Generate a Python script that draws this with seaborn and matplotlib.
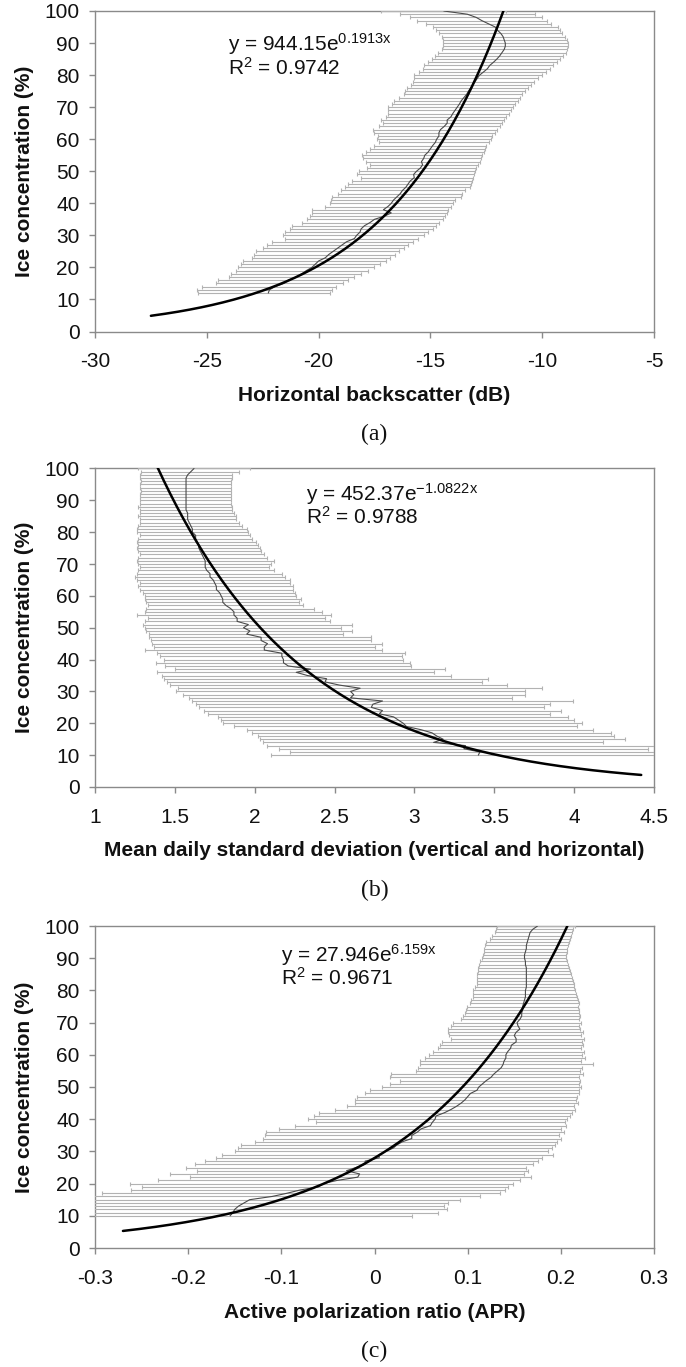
import numpy as np
import matplotlib
matplotlib.use("Agg")
import matplotlib.pyplot as plt
import seaborn as sns
from matplotlib.ticker import MultipleLocator, FuncFormatter

# ---- panel (a): horizontal backscatter, ice levels 12..100 %
ice_a = list(range(12, 101))
left_a = [-25.40, -25.45, -25.20, -24.60, -24.50, -24.00, -23.90, -23.70, -23.60, -23.45,
          -23.40, -23.00, -22.90, -22.80, -22.50, -22.30, -22.10, -21.50, -21.60, -21.50,
          -21.30, -21.20, -20.75, -20.50, -20.40, -20.30, -20.30, -19.70, -19.50, -19.45,
          -19.40, -19.15, -19.00, -18.80, -18.70, -18.50, -18.10, -18.30, -18.20, -17.85,
          -17.70, -17.90, -18.00, -18.05, -17.90, -17.70, -17.50, -17.30, -17.40, -17.35,
          -17.50, -17.55, -17.30, -17.10, -17.20, -17.00, -16.90, -16.90, -16.90, -16.70,
          -16.65, -16.40, -16.20, -16.15, -16.05, -15.85, -15.80, -15.75, -15.75, -15.50,
          -15.35, -15.30, -15.10, -14.95, -14.80, -14.65, -14.50, -14.45, -14.45, -14.45,
          -14.50, -14.60, -14.75, -14.90, -15.20, -15.60, -15.90, -16.35, -17.20]
right_a = [-19.50, -19.40, -19.20, -18.90, -18.70, -18.40, -18.10, -17.80, -17.50, -17.25,
           -17.00, -16.80, -16.60, -16.40, -16.20, -16.00, -15.80, -15.55, -15.30, -15.10,
           -14.90, -14.75, -14.60, -14.45, -14.35, -14.25, -14.20, -14.10, -14.00, -13.90,
           -13.65, -13.60, -13.45, -13.25, -13.20, -13.15, -13.10, -13.05, -13.00, -12.95,
           -12.85, -12.80, -12.75, -12.70, -12.60, -12.55, -12.50, -12.40, -12.30, -12.25,
           -12.10, -12.00, -11.90, -11.80, -11.70, -11.60, -11.50, -11.40, -11.30, -11.20,
           -11.10, -11.00, -10.90, -10.75, -10.62, -10.50, -10.35, -10.20, -10.00, -9.85,
           -9.65, -9.50, -9.35, -9.20, -9.05, -8.95, -8.90, -8.85, -8.85, -8.90,
           -9.00, -9.10, -9.20, -9.30, -9.60, -9.80, -10.00, -10.30, -11.60]
mean_a = [-22.25, -22.20, -21.95, -21.55, -21.35, -21.00, -20.75, -20.55, -20.30, -20.15,
          -20.00, -19.70, -19.55, -19.35, -19.15, -18.95, -18.75, -18.40, -18.30, -18.15,
          -18.10, -17.95, -17.70, -17.50, -17.05, -16.75, -17.10, -16.90, -16.75, -16.65,
          -16.50, -16.35, -16.25, -16.10, -16.00, -15.90, -15.72, -15.75, -15.62, -15.45,
          -15.35, -15.40, -15.30, -15.25, -15.10, -15.00, -14.90, -14.78, -14.72, -14.62,
          -14.62, -14.55, -14.38, -14.25, -14.25, -14.08, -14.00, -13.90, -13.80, -13.70,
          -13.62, -13.50, -13.38, -13.30, -13.20, -13.10, -13.00, -12.90, -12.80, -12.62,
          -12.45, -12.35, -12.18, -12.03, -11.90, -11.80, -11.70, -11.65, -11.65, -11.70,
          -11.75, -11.85, -12.00, -12.10, -12.40, -12.70, -12.95, -13.35, -14.40]

# ---- panel (b): mean daily standard deviation, ice levels 10..100 %
ice_b = list(range(10, 101))
left_b = [2.10, 2.22, 2.15, 2.08, 2.05, 2.03, 2.02, 1.98, 1.95, 1.87,
          1.80, 1.79, 1.77, 1.71, 1.68, 1.65, 1.63, 1.61, 1.59, 1.55,
          1.51, 1.52, 1.47, 1.45, 1.43, 1.42, 1.39, 1.50, 1.44, 1.38,
          1.43, 1.41, 1.39, 1.31, 1.37, 1.36, 1.35, 1.34, 1.34, 1.32,
          1.31, 1.30, 1.31, 1.33, 1.26, 1.31, 1.32, 1.33, 1.32, 1.31,
          1.31, 1.30, 1.28, 1.27, 1.28, 1.26, 1.25, 1.26, 1.27, 1.28,
          1.27, 1.26, 1.27, 1.28, 1.27, 1.26, 1.27, 1.26, 1.27, 1.28,
          1.26, 1.26, 1.27, 1.28, 1.28, 1.27, 1.28, 1.28, 1.27, 1.28,
          1.28, 1.28, 1.28, 1.29, 1.28, 1.28, 1.29, 1.28, 1.28, 1.29,
          1.27]
right_b = [4.70, 4.60, 4.46, 4.55, 4.18, 4.32, 4.25, 4.23, 4.12, 4.02,
           4.05, 4.00, 3.96, 3.85, 3.92, 3.81, 3.85, 3.99, 3.61, 3.69,
           3.69, 3.80, 3.58, 3.42, 3.46, 3.23, 3.12, 3.19, 2.98, 2.97,
           2.93, 2.92, 2.94, 2.80, 2.75, 2.80, 2.73, 2.73, 2.55, 2.61,
           2.54, 2.61, 2.47, 2.44, 2.48, 2.42, 2.37, 2.30, 2.28, 2.29,
           2.26, 2.25, 2.24, 2.24, 2.22, 2.22, 2.19, 2.17, 2.12, 2.09,
           2.10, 2.12, 2.08, 2.06, 2.04, 2.03, 2.02, 2.01, 1.98, 1.97,
           1.96, 1.95, 1.92, 1.90, 1.88, 1.88, 1.87, 1.86, 1.86, 1.85,
           1.85, 1.85, 1.85, 1.85, 1.85, 1.85, 1.85, 1.86, 1.86, 1.90,
           1.97]
mean_b = [3.40, 3.41, 3.31, 3.32, 3.12, 3.18, 3.14, 3.11, 3.04, 2.95,
          2.93, 2.90, 2.87, 2.78, 2.80, 2.73, 2.74, 2.80, 2.60, 2.62,
          2.60, 2.66, 2.53, 2.44, 2.45, 2.33, 2.26, 2.35, 2.21, 2.18,
          2.18, 2.17, 2.17, 2.06, 2.06, 2.08, 2.04, 2.04, 1.95, 1.97,
          1.93, 1.96, 1.89, 1.89, 1.87, 1.87, 1.85, 1.82, 1.80, 1.80,
          1.79, 1.78, 1.76, 1.76, 1.75, 1.74, 1.72, 1.72, 1.70, 1.69,
          1.69, 1.69, 1.68, 1.67, 1.66, 1.65, 1.65, 1.64, 1.63, 1.63,
          1.61, 1.61, 1.60, 1.59, 1.58, 1.58, 1.58, 1.57, 1.57, 1.57,
          1.57, 1.57, 1.57, 1.57, 1.57, 1.57, 1.57, 1.57, 1.58, 1.60,
          1.62]

# ---- panel (c): active polarization ratio, ice levels 10..100 %
ice_c = list(range(10, 101))
left_c = [-0.350, -0.360, -0.380, -0.370, -0.400, -0.360, -0.340, -0.293, -0.261, -0.250,
          -0.262, -0.232, -0.198, -0.220, -0.191, -0.202, -0.193, -0.182, -0.170, -0.164,
          -0.150, -0.146, -0.143, -0.128, -0.120, -0.118, -0.116, -0.103, -0.085, -0.063,
          -0.071, -0.065, -0.060, -0.042, -0.030, -0.021, -0.021, -0.019, -0.010, -0.005,
          0.008, 0.017, 0.027, 0.017, 0.018, 0.045, 0.047, 0.049, 0.049, 0.054,
          0.058, 0.063, 0.068, 0.070, 0.072, 0.082, 0.080, 0.079, 0.079, 0.082,
          0.084, 0.093, 0.095, 0.097, 0.098, 0.099, 0.102, 0.104, 0.106, 0.106,
          0.106, 0.108, 0.110, 0.110, 0.110, 0.110, 0.111, 0.111, 0.112, 0.113,
          0.115, 0.116, 0.117, 0.118, 0.119, 0.120, 0.124, 0.126, 0.129, 0.130,
          0.131]
right_c = [0.040, 0.068, 0.078, 0.075, 0.079, 0.092, 0.113, 0.135, 0.140, 0.143,
           0.149, 0.156, 0.168, 0.160, 0.165, 0.163, 0.170, 0.176, 0.180, 0.192,
           0.186, 0.190, 0.194, 0.196, 0.200, 0.198, 0.203, 0.200, 0.206, 0.204,
           0.207, 0.210, 0.212, 0.215, 0.214, 0.218, 0.216, 0.217, 0.220, 0.219,
           0.222, 0.220, 0.221, 0.219, 0.224, 0.221, 0.223, 0.234, 0.222, 0.226,
           0.223, 0.225, 0.222, 0.224, 0.223, 0.225, 0.222, 0.224, 0.221, 0.219,
           0.222, 0.220, 0.221, 0.219, 0.220, 0.218, 0.219, 0.218, 0.217, 0.216,
           0.215, 0.214, 0.214, 0.213, 0.212, 0.211, 0.210, 0.209, 0.208, 0.207,
           0.206, 0.206, 0.207, 0.207, 0.208, 0.209, 0.210, 0.211, 0.212, 0.213,
           0.215]
mean_c = [-0.155, -0.152, -0.150, -0.146, -0.140, -0.134, -0.110, -0.094, -0.080, -0.060,
          -0.055, -0.040, -0.018, -0.016, -0.030, -0.020, -0.010, -0.010, 0.005, 0.005,
          0.012, 0.020, 0.024, 0.030, 0.040, 0.040, 0.046, 0.050, 0.060, 0.062,
          0.065, 0.066, 0.075, 0.082, 0.088, 0.093, 0.097, 0.100, 0.103, 0.110,
          0.112, 0.116, 0.120, 0.125, 0.128, 0.132, 0.136, 0.138, 0.139, 0.141,
          0.141, 0.143, 0.146, 0.147, 0.152, 0.152, 0.150, 0.152, 0.156, 0.154,
          0.153, 0.156, 0.158, 0.158, 0.159, 0.159, 0.160, 0.161, 0.162, 0.162,
          0.162, 0.163, 0.163, 0.163, 0.163, 0.163, 0.163, 0.163, 0.162, 0.162,
          0.161, 0.161, 0.162, 0.163, 0.163, 0.164, 0.165, 0.166, 0.167, 0.170,
          0.175]

# exponential trendlines y = A * exp(B * x), drawn over the x range shown
fit_a = (944.15, 0.1913, -27.5, -11.73)
fit_b = (452.37, -1.0822, 1.39, 4.42)
fit_c = (27.946, 6.159, -0.27, 0.207)

eq_a = (r"y = 944.15e$^{\mathrm{0.1913x}}$", r"R$^{\mathrm{2}}$ = 0.9742")
eq_b = (r"y = 452.37e$^{\mathrm{-1.0822x}}$", r"R$^{\mathrm{2}}$ = 0.9788")
eq_c = (r"y = 27.946e$^{\mathrm{6.159x}}$", r"R$^{\mathrm{2}}$ = 0.9671")

xlabels = ["Horizontal backscatter (dB)",
           "Mean daily standard deviation (vertical and horizontal)",
           "Active polarization ratio (APR)"]
letters = ["(a)", "(b)", "(c)"]

sns.set_style("white")
plt.rcParams['font.family'] = ['Liberation Sans', 'DejaVu Sans']
plt.rcParams['axes.unicode_minus'] = False
plt.rcParams['mathtext.fontset'] = 'custom'
plt.rcParams['mathtext.rm'] = 'Liberation Sans'
plt.rcParams['mathtext.default'] = 'regular'

fig = plt.figure(figsize=(6.86, 13.67), dpi=100)

W, H = 686, 1367
boxes = [(95, 11, 654, 331.5), (95, 468.5, 654, 787), (95, 926, 654, 1248)]

panels = [
    (ice_a, left_a, right_a, mean_a, fit_a, eq_a, (-30, -5, 5), (-24.05, 87.5, 80.2)),
    (ice_b, left_b, right_b, mean_b, fit_b, eq_b, (1, 4.5, 0.5), (2.32, 89.8, 82.5)),
    (ice_c, left_c, right_c, mean_c, fit_c, eq_c, (-0.3, 0.3, 0.1), (-0.10, 89.0, 81.7)),
]

grid_col = "#8a8a8a"
fmt = FuncFormatter(lambda v, p: "%g" % round(v, 6))

for i, (ice, lo, hi, mu, fit, eq, xr, eqpos) in enumerate(panels):
    x0, y0, x1, y1 = boxes[i]
    ax = fig.add_axes([x0 / W, 1 - y1 / H, (x1 - x0) / W, (y1 - y0) / H])

    ice = np.array(ice, dtype=float)
    lo, hi, mu = np.array(lo), np.array(hi), np.array(mu)
    assert len(ice) == len(lo) == len(hi) == len(mu)

    # lo / hi are the read bar ends; keep the bars spanning exactly those
    ax.errorbar(mu, ice, xerr=[np.clip(mu - lo, 0, None), np.clip(hi - mu, 0, None)],
                fmt='none', ecolor="#b2b2b2",
                elinewidth=0.8, capsize=1.6, capthick=0.8, zorder=3)
    sns.lineplot(x=mu, y=ice, sort=False, estimator=None, color="#4a4a4a",
                 lw=0.8, ax=ax, zorder=4)

    a, b, fx0, fx1 = fit
    xs = np.linspace(fx0, fx1, 300)
    sns.lineplot(x=xs, y=a * np.exp(b * xs), sort=False, estimator=None,
                 color="black", lw=1.8, ax=ax, zorder=5)

    ax.set_xlim(xr[0], xr[1])
    ax.set_ylim(0, 100)
    ax.xaxis.set_major_locator(MultipleLocator(xr[2]))
    ax.yaxis.set_major_locator(MultipleLocator(10))
    ax.xaxis.set_major_formatter(fmt)
    ax.set_xlabel("")
    ax.set_ylabel("")

    for sp in ax.spines.values():
        sp.set_visible(True)
        sp.set_color(grid_col)
        sp.set_linewidth(1.0)
    ax.tick_params(axis='both', which='major', direction='out', length=4, width=1.0,
                   color=grid_col, labelsize=15, labelcolor="#111111")
    ax.tick_params(axis='x', pad=11)
    ax.tick_params(axis='y', pad=7)
    ax.xaxis.set_ticks_position('bottom')
    ax.yaxis.set_ticks_position('left')

    ex, ey1, ey2 = eqpos
    ax.text(ex, ey1, eq[0], fontsize=15, va='baseline', ha='left', color="#111111")
    ax.text(ex, ey2, eq[1], fontsize=15, va='baseline', ha='left', color="#111111")

    ax.annotate(xlabels[i], xy=(0.5, 0), xycoords='axes fraction', xytext=(0, -64),
                textcoords='offset pixels', ha='center', va='center', fontsize=15,
                fontweight='bold', color="#111111")
    ax.annotate(letters[i], xy=(0.5, 0), xycoords='axes fraction', xytext=(0, -103),
                textcoords='offset pixels', ha='center', va='center', fontsize=17,
                family='Liberation Serif', color="#111111")
    ax.annotate("Ice concentration (%)", xy=(0, 0.5), xycoords='axes fraction',
                xytext=(-71, 0), textcoords='offset pixels', ha='center', va='center',
                rotation=90, fontsize=15, fontweight='bold', color="#111111")

fig.savefig("out.png", dpi=100, facecolor="white")
